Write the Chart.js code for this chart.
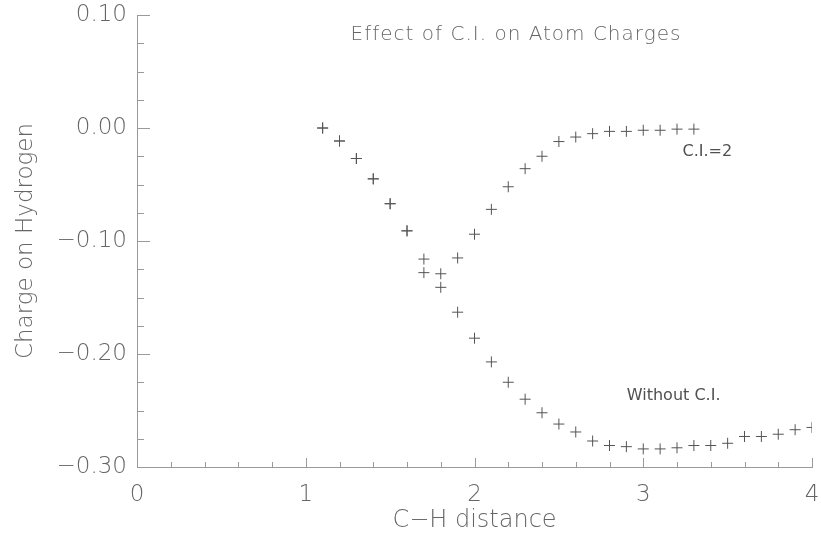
<!DOCTYPE html>
<html>
<head>
<meta charset="utf-8">
<script src="https://cdn.jsdelivr.net/npm/chart.js@4"></script>
<style>
  html, body { margin: 0; padding: 0; background: #fff; }
  #wrap { width: 821px; height: 535px; }
</style>
</head>
<body>
<div id="wrap"><canvas id="myChart" width="821" height="535"></canvas></div>
<script>
// values
var distance = [1.1, 1.2, 1.3, 1.4, 1.5, 1.6, 1.7, 1.8, 1.9, 2.0, 2.1, 2.2, 2.3, 2.4, 2.5,
                2.6, 2.7, 2.8, 2.9, 3.0, 3.1, 3.2, 3.3, 3.4, 3.5, 3.6, 3.7, 3.8, 3.9, 4.0];
var withoutCI = [0.000, -0.0115, -0.027, -0.045, -0.067, -0.091, -0.128, -0.141, -0.163, -0.186,
                 -0.207, -0.225, -0.240, -0.252, -0.262, -0.269, -0.277, -0.281, -0.282, -0.284,
                 -0.284, -0.283, -0.281, -0.281, -0.279, -0.273, -0.273, -0.271, -0.267, -0.265];
var distanceCI = [1.1, 1.2, 1.3, 1.4, 1.5, 1.6, 1.7, 1.8, 1.9, 2.0, 2.1, 2.2,
                  2.3, 2.4, 2.5, 2.6, 2.7, 2.8, 2.9, 3.0, 3.1, 3.2, 3.3];
var withCI = [0.000, -0.0115, -0.027, -0.045, -0.067, -0.091, -0.116, -0.129, -0.115, -0.094, -0.072, -0.052,
              -0.036, -0.025, -0.012, -0.008, -0.005, -0.003, -0.003, -0.002, -0.002, -0.001, -0.001];
var xTicks = [0, 1, 2, 3, 4];
var yTicks = [-0.3, -0.2, -0.1, 0.0, 0.1];

var FONT = '"DejaVu Sans", sans-serif';
var TEXT = '#666';
var AXIS = '#9a9a9a';

function pts(xs, ys) {
  var out = [];
  for (var i = 0; i < xs.length; i++) out.push({x: xs[i], y: ys[i]});
  return out;
}

function minus(v) {
  return v < 0 ? '\u2212' + Math.abs(v).toFixed(2) : v.toFixed(2);
}

// inward ticks, minor ticks, title and the two labels
var extras = {
  id: 'extras',
  afterDraw: function(chart) {
    var ctx = chart.ctx;
    var xs = chart.scales.x, ys = chart.scales.y;
    var a = chart.chartArea;
    ctx.save();
    ctx.strokeStyle = AXIS;
    ctx.lineWidth = 1;
    ctx.beginPath();
    for (var i = 0; i <= 20; i++) {
      var v = i * 0.2;
      var px = Math.round(xs.getPixelForValue(v)) + 0.5;
      var len = (i % 5 == 0) ? 9 : 5;
      ctx.moveTo(px, a.bottom);
      ctx.lineTo(px, a.bottom - len);
    }
    for (var j = 0; j <= 16; j++) {
      var w = -0.3 + j * 0.025;
      var py = Math.round(ys.getPixelForValue(w)) + 0.5;
      var l = (j % 4 == 0) ? 13 : 7;
      ctx.moveTo(a.left, py);
      ctx.lineTo(a.left + l, py);
    }
    ctx.stroke();

    ctx.fillStyle = TEXT;
    ctx.textAlign = 'center';
    ctx.textBaseline = 'middle';
    ctx.letterSpacing = '1px';
    ctx.font = '200 20px ' + FONT;
    ctx.fillText('Effect of C.I. on Atom Charges', 516, 35);
    ctx.letterSpacing = '0px';
    ctx.font = '16px ' + FONT;
    ctx.fillStyle = '#505050';
    ctx.fillText('C.I.=2', xs.getPixelForValue(3.38), 152);
    ctx.fillText('Without C.I.', xs.getPixelForValue(3.18), 396);
    ctx.restore();
  }
};

const data = {
  datasets: [{
    label: 'Without C.I.',
    data: pts(distance, withoutCI),
    pointStyle: 'cross',
    pointRadius: 5.5,
    pointBorderWidth: 1,
    borderColor: '#555',
    showLine: false
  }, {
    label: 'C.I.=2',
    data: pts(distanceCI, withCI),
    pointStyle: 'cross',
    pointRadius: 5.5,
    pointBorderWidth: 1,
    borderColor: '#555',
    showLine: false
  }]
};

const config = {
  type: 'scatter',
  data: data,
  options: {
    responsive: false,
    animation: false,
    layout: { padding: { top: 15, right: 9, left: 0, bottom: 0 } },
    plugins: { legend: { display: false }, tooltip: { enabled: false } },
    scales: {
      x: {
        min: 0, max: 4,
        afterBuildTicks: function(s) { s.ticks = xTicks.map(function(v) { return {value: v}; }); },
        afterFit: function(s) { s.height = 68; s.paddingLeft = 0; s.paddingRight = 0; },
        grid: { display: false, drawTicks: false },
        border: { display: true, color: AXIS, width: 1 },
        ticks: { color: TEXT, font: { family: FONT, size: 23, weight: 200 }, padding: 14, maxRotation: 0,
                 callback: function(v) { return String(v); } },
        title: { display: true, text: 'C\u2212H distance', color: TEXT,
                 font: { family: FONT, size: 24, weight: 200 }, padding: { top: 0, bottom: 0 } }
      },
      y: {
        min: -0.3, max: 0.1,
        afterBuildTicks: function(s) { s.ticks = yTicks.map(function(v) { return {value: v}; }); },
        afterFit: function(s) { s.width = 137; s.paddingTop = 0; s.paddingBottom = 0; },
        grid: { display: false, drawTicks: false },
        border: { display: true, color: AXIS, width: 1 },
        ticks: { color: TEXT, font: { family: FONT, size: 23, weight: 200 }, padding: 10,
                 callback: function(v) { return minus(v); } },
        title: { display: true, text: 'Charge on Hydrogen', color: TEXT,
                 font: { family: FONT, size: 23, weight: 200 }, padding: { top: 12, bottom: 0 } }
      }
    }
  },
  plugins: [extras]
};

const myChart = new Chart(document.getElementById('myChart'), config);
</script>
</body>
</html>
